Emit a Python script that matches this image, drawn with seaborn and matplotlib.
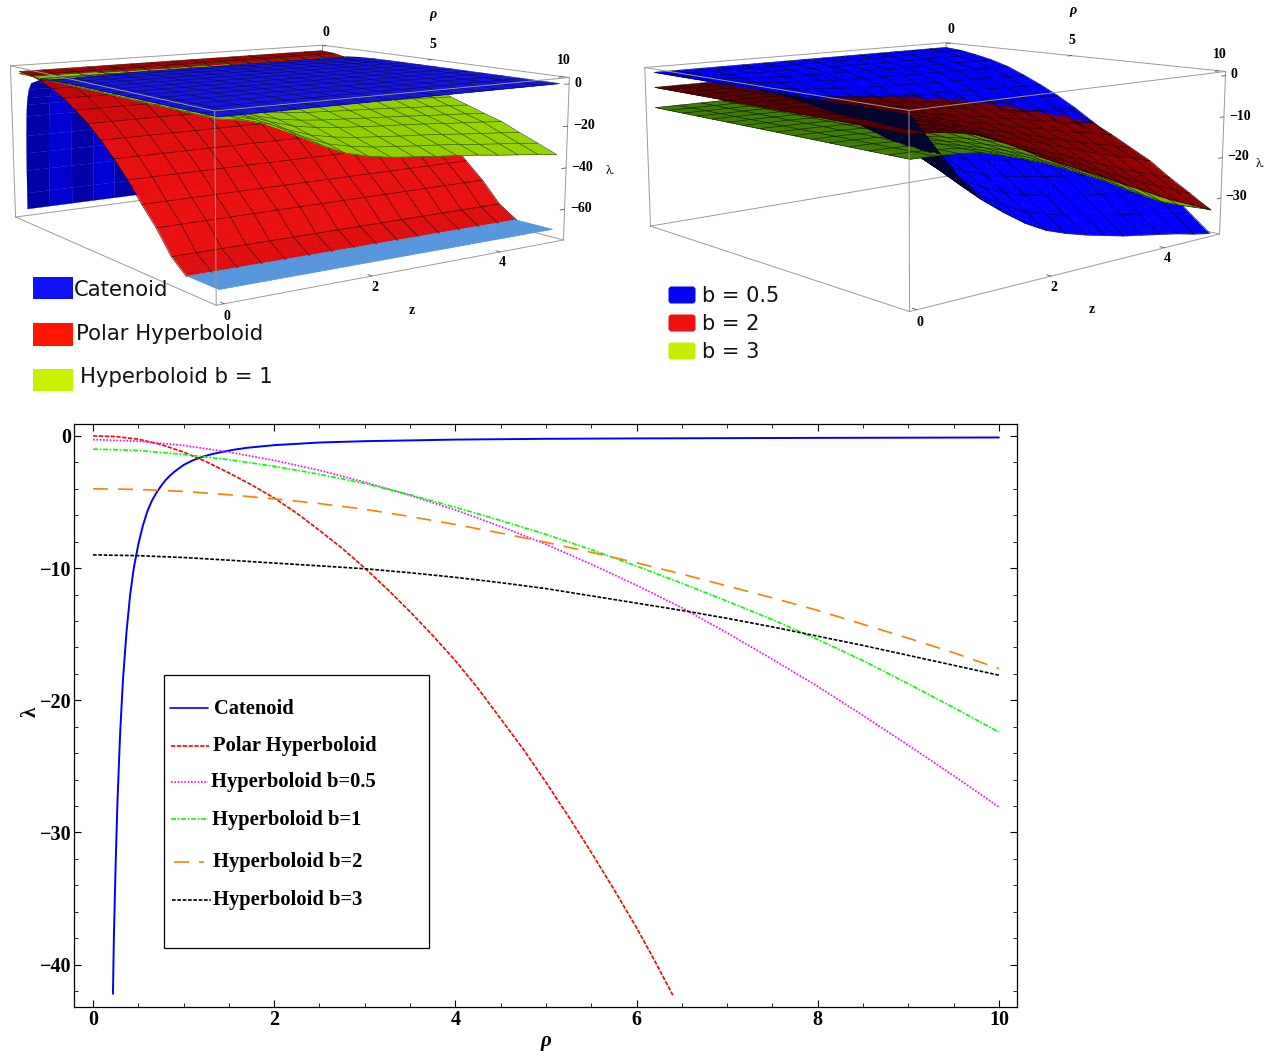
import numpy as np
import pandas as pd
import seaborn as sns
import matplotlib
matplotlib.use('Agg')
import matplotlib.pyplot as plt
from matplotlib.colors import to_rgb
from matplotlib.patches import Rectangle, FancyBboxPatch
from matplotlib.ticker import MultipleLocator
from mpl_toolkits.mplot3d import proj3d
from mpl_toolkits.mplot3d.art3d import Poly3DCollection

# Bottom chart: curves
rho_grid = [0, 0.5, 1, 1.5, 2, 2.5, 3, 3.5, 4, 4.5, 5, 5.5, 6, 6.5, 7, 7.5, 8, 8.5, 9, 9.5, 10]
lam_b05 = [-0.28, -0.4, -0.72, -1.22, -1.85, -2.6, -3.5, -4.5, -5.6, -6.85, -8.2, -9.7, -11.3,
           -13, -14.9, -16.9, -18.95, -21.15, -23.4, -25.7, -28.07]
lam_b1 = [-1, -1.1, -1.4, -1.8, -2.3, -2.9, -3.6, -4.45, -5.4, -6.4, -7.45, -8.6, -9.85,
          -11.15, -12.5, -13.9, -15.4, -17, -18.75, -20.55, -22.4]
lam_b2 = [-4, -4.05, -4.2, -4.45, -4.76, -5.12, -5.55, -6.1, -6.7, -7.35, -8.05, -8.8, -9.6,
          -10.45, -11.35, -12.25, -13.2, -14.25, -15.3, -16.4, -17.6]
lam_b3 = [-9, -9.06, -9.2, -9.4, -9.62, -9.83, -10.05, -10.35, -10.7, -11.1, -11.55, -12.1, -12.65,
          -13.2, -13.8, -14.45, -15.15, -15.85, -16.6, -17.35, -18.1]
rho_polar = [0, 0.25, 0.5, 0.75, 1, 1.25, 1.5, 1.75, 2, 2.25, 2.5, 2.75, 3, 3.25, 3.5, 3.75, 4, 4.25,
             4.5, 4.75, 5, 5.25, 5.5, 5.75, 6, 6.2, 6.4]
lam_polar = [0, -0.05, -0.25, -0.65, -1.23, -1.95, -2.8, -3.7, -4.7, -5.85, -7.15, -8.5, -10, -11.6,
             -13.3, -15.1, -17, -19.1, -21.4, -23.7, -26.2, -28.8, -31.5, -34.3, -37.2, -39.7, -42.3]
rho_cat = [0.22, 0.23, 0.25, 0.27, 0.3, 0.33, 0.37, 0.41, 0.45, 0.5, 0.55, 0.6, 0.65, 0.7, 0.75, 0.8, 0.85,
           0.9, 0.95, 1, 1.1, 1.2, 1.3, 1.4, 1.55, 1.7, 1.85, 2, 2.5, 3, 4, 5, 6, 8, 10]
lam_cat = [-42.2, -38, -32.3, -27.6, -22.4, -18.5, -14.8, -12, -10, -8.2, -6.8, -5.7, -4.9, -4.3, -3.8,
           -3.35, -3, -2.7, -2.45, -2.2, -1.85, -1.6, -1.4, -1.25, -1.05, -0.9, -0.8, -0.7, -0.5, -0.4,
           -0.28, -0.22, -0.19, -0.15, -0.12]

# 3D panels: mesh values along rho and z, the sheets are built from these
rho_mesh = [0, 0.67, 1.33, 2, 2.67, 3.33, 4, 4.67, 5.33, 6, 6.67, 7.33, 8, 8.67, 9.33, 10]
z_mesh = [0, 0.33, 0.67, 1, 1.33, 1.67, 2, 2.33, 2.67, 3, 3.33, 3.67, 4, 4.33, 4.67, 5]
mesh_b05 = [-0.28, -0.55, -1.1, -1.8, -2.75, -4.1, -5.6, -7.3, -9.2, -11.4, -13.9, -16.3, -18.95, -21.9, -25, -28]
mesh_b1 = [-1, -1.15, -1.65, -2.3, -3.1, -4.05, -5.4, -6.75, -8.2, -9.9, -11.7, -13.5, -15.2, -17.7, -20, -22.4]
mesh_b2 = [-4, -4.1, -4.35, -4.76, -5.25, -5.85, -6.75, -7.6, -8.5, -9.6, -10.7, -11.9, -13.1, -14.7, -16.1, -17.6]
mesh_b3 = [-9, -9.1, -9.35, -9.62, -9.9, -10.25, -10.7, -11.25, -11.95, -12.7, -13.4, -14.3, -15.2, -16.2, -17.2, -18.1]
zfac_b05 = [0, 0.25, 0.5, 0.7, 0.83, 0.95, 1.04, 1.1, 1.15, 1.19, 1.23, 1.26, 1.29, 1.32, 1.36, 1.39]
zfac_b1 = [0, 0.07, 0.2, 0.45, 0.7, 0.92, 1.04, 1.12, 1.17, 1.22, 1.26, 1.31, 1.37, 1.42, 1.47, 1.53]
zfac_b2 = [0, 0.03, 0.08, 0.17, 0.33, 0.5, 0.7, 0.86, 1.02, 1.18, 1.35, 1.52, 1.69, 1.84, 1.98, 2.13]
zfac_b3 = [0, 0.01, 0.04, 0.1, 0.25, 0.42, 0.6, 0.82, 1.06, 1.3, 1.57, 1.84, 2.1, 2.29, 2.46, 2.62]
mesh_polar = [0, -0.5, -2.2, -4.7, -8, -12.2, -17, -23, -29.7, -37.2, -46, -54, -64, -70, -70, -70]
mesh_cat = [-1.35, -0.7, -0.45, -0.33, -0.28, -0.24, -0.21, -0.19, -0.17, -0.16, -0.15, -0.14, -0.13, -0.12]
rho_wall = [0.17, 0.18, 0.2, 0.22, 0.25, 0.3, 0.35, 0.4, 0.5, 0.67, 1.33]
lam_wall = [-70, -61.7, -50, -41, -32, -22, -16, -12.5, -8, -4.5, -1.35]

legend_labels = ['Catenoid', 'Polar Hyperboloid', 'Hyperboloid b=0.5', 'Hyperboloid b=1', 'Hyperboloid b=2', 'Hyperboloid b=3']
legend_colors = ['#0000ff', '#ff0000', '#ff00ff', '#00ff00', '#ff8000', '#000000']
legend_dashes = ['-', (0, (2.6, 0.9)), (0, (1, 1)), (0, (3, 1, 1, 1)), (0, (9, 6)), (0, (2.2, 1))]

W, H = 1271, 1051
ELEV, FOCAL = 9.8, 0.36
SUB = 4
sns.set_theme(style='ticks')
plt.rcParams['font.family'] = ['Liberation Serif', 'DejaVu Sans']
plt.rcParams['axes.unicode_minus'] = True

fig = plt.figure(figsize=(W / 100, H / 100), dpi=100, facecolor='white')


def pixel_rect(left, top, right, bottom):
    return [left / W, 1 - bottom / H, (right - left) / W, (bottom - top) / H]


# Bottom line chart
ax = fig.add_axes(pixel_rect(74, 424, 1017, 1007))
curves = [(rho_cat, lam_cat), (rho_polar, lam_polar), (rho_grid, lam_b05),
          (rho_grid, lam_b1), (rho_grid, lam_b2), (rho_grid, lam_b3)]
widths = [1.4, 1.2, 1.2, 1.2, 1.2, 1.2]
for i, (xs, ys) in enumerate(curves):
    df = pd.DataFrame({'rho': xs, 'lam': ys})
    sns.lineplot(data=df, x='rho', y='lam', ax=ax, color=legend_colors[i], linestyle=legend_dashes[i],
                 lw=widths[i], estimator=None, sort=False, errorbar=None)
ax.set_xlim(-0.21, 10.2)
ax.set_ylim(-43.2, 0.9)
ax.xaxis.set_major_locator(MultipleLocator(2))
ax.xaxis.set_minor_locator(MultipleLocator(0.5))
ax.yaxis.set_major_locator(MultipleLocator(10))
ax.yaxis.set_minor_locator(MultipleLocator(2))
ax.tick_params(which='major', direction='in', length=5, width=0.8, top=True, right=True, pad=2,
               labelsize=14.5, colors='black')
ax.tick_params(which='minor', direction='in', length=3, width=0.6, top=True, right=True, colors='black')
for lab in ax.get_xticklabels() + ax.get_yticklabels():
    lab.set_fontweight('bold')
for sp in ax.spines.values():
    sp.set_linewidth(0.9)
    sp.set_color('black')
ax.set_xlabel('ρ', fontsize=15, fontweight='bold', fontstyle='italic', color='black')
ax.set_ylabel('λ', fontsize=15, fontweight='bold', color='black')
ax.xaxis.set_label_coords((546 - 74) / 943, -(1031 - 1007) / 583)
ax.yaxis.set_label_coords((41 - 74) / 943, (1007 - 712) / 583)


def refine(vals):
    # extra render points between the mesh lines so that the sheets cross cleanly
    vals = np.asarray(vals, dtype=float)
    pos = np.linspace(0, len(vals) - 1, (len(vals) - 1) * SUB + 1)
    return np.interp(pos, np.arange(len(vals)), vals)


def cam_vector(azim):
    e, a = np.radians(ELEV), np.radians(azim)
    return np.array([np.cos(e) * np.cos(a), np.cos(e) * np.sin(a), np.sin(e)])


def sheet_quads(rho, zs, lam):
    rr, zz = np.meshgrid(rho, zs, indexing='ij')
    pts = np.dstack([rr, zz, lam])
    return np.stack([pts[:-1, :-1], pts[1:, :-1], pts[1:, 1:], pts[:-1, 1:]], axis=2).reshape(-1, 4, 3)


def build_sheet(rho, lam, span, azim, dark, bright, edge, under=None, floor=None, floor_color=None):
    # returns cells and mesh lines; the lines are nudged towards the camera so they sort on top
    rho_f = refine(rho)
    z_f = refine(z_mesh)
    quads = sheet_quads(rho_f, z_f, lam)
    scale = np.array([1 / 10.4, 1 / 5.2, 0.4 / span])
    q = quads * scale
    n = np.cross(q[:, 2] - q[:, 0], q[:, 3] - q[:, 1])
    n = n / np.linalg.norm(n, axis=1, keepdims=True)
    cam = cam_vector(azim)
    t = np.clip(n[:, 0] * 2.0, 0, 1)[:, None]
    faces = np.array(to_rgb(dark)) * (1 - t) + np.array(to_rgb(bright)) * t
    if under is not None:
        faces[(n @ cam) < 0] = to_rgb(under)
    if floor is not None:
        faces[quads[:, :, 2].max(axis=1) <= floor] = to_rgb(floor_color)

    pts = np.dstack(list(np.meshgrid(rho_f, z_f, indexing='ij')) + [lam])
    segs = []
    for i in range(0, pts.shape[0], SUB):
        for j in range(pts.shape[1] - 1):
            segs.append(pts[i, j:j + 2])
    for j in range(0, pts.shape[1], SUB):
        for i in range(pts.shape[0] - 1):
            segs.append(pts[i:i + 2, j])
    segs = np.array(segs)
    if floor is not None:
        segs = segs[segs[:, :, 2].max(axis=1) > floor]
    segs = segs + 0.02 * cam / scale
    line_cols = np.tile(np.array(to_rgb(edge)), (len(segs), 1))
    return list(quads) + list(segs), np.vstack([faces, line_cols]), np.vstack([faces, line_cols])


def draw_box(ax3, lam_lo, lam_hi, color='#9a9a9a'):
    x0, x1, y0, y1 = -0.2, 10.2, -0.1, 5.1
    back = [((x0, y1, lam_lo), (x0, y1, lam_hi)), ((x0, y0, lam_lo), (x0, y1, lam_lo)),
            ((x0, y1, lam_lo), (x1, y1, lam_lo))]
    front = [((x0, y0, lam_hi), (x0, y1, lam_hi)), ((x0, y1, lam_hi), (x1, y1, lam_hi)),
             ((x1, y1, lam_hi), (x1, y0, lam_hi)), ((x1, y0, lam_hi), (x0, y0, lam_hi)),
             ((x0, y0, lam_lo), (x0, y0, lam_hi)), ((x1, y1, lam_lo), (x1, y1, lam_hi)),
             ((x1, y0, lam_lo), (x1, y0, lam_hi)), ((x0, y0, lam_lo), (x1, y0, lam_lo)),
             ((x1, y0, lam_lo), (x1, y1, lam_lo))]
    for seg in back:
        ax3.plot(*zip(*seg), color=color, lw=0.7, zorder=1, clip_on=False)
    for seg in front:
        ax3.plot(*zip(*seg), color=color, lw=0.7, zorder=6, clip_on=False)


def label_3d(ax3, x, y, z, text, **kw):
    # project the data position and put the label on the figure
    ax3.apply_aspect()
    x2, y2, _ = proj3d.proj_transform(x, y, z, ax3.get_proj())
    px, py = ax3.transData.transform((x2, y2))
    fig.text(px / W, py / H, text, va='center', color='black', zorder=7, **kw)


def label_box(ax3, lam_lo, lam_hi, lam_ticks):
    x1, y0, y1 = 10.2, -0.1, 5.1
    span = lam_hi - lam_lo
    for r in [0, 5, 10]:
        ax3.plot([r, r], [y1, y1 - 0.08], [lam_hi, lam_hi], color='#555555', lw=0.6, zorder=6, clip_on=False)
        label_3d(ax3, r, y1, lam_hi + 0.1 * span, str(r), fontsize=10, fontweight='bold', ha='center')
    for v in [0, 2, 4]:
        ax3.plot([x1, x1 - 0.15], [v, v], [lam_lo, lam_lo], color='#555555', lw=0.6, zorder=6, clip_on=False)
        label_3d(ax3, x1 + 0.1, v, lam_lo - 0.06 * span, str(v), fontsize=10, fontweight='bold', ha='center')
    for t in lam_ticks:
        ax3.plot([x1, x1], [y1, y1 - 0.08], [t, t], color='#555555', lw=0.6, zorder=6, clip_on=False)
        label_3d(ax3, x1, y1 + 0.1, t, str(t).replace('-', '−'), fontsize=10, fontweight='bold', ha='left')
    label_3d(ax3, 5, y1, lam_hi + 0.3 * span, 'ρ', fontsize=10, fontweight='bold', fontstyle='italic', ha='center')
    label_3d(ax3, x1 + 0.6, 2.35, lam_lo - 0.19 * span, 'z', fontsize=10, fontweight='bold', ha='center')
    label_3d(ax3, x1, y1 + 0.72, lam_lo + 0.395 * span, 'λ.', fontsize=9, ha='left')


def make_3d(cx, cy, size, lam_lo, lam_hi, zoom, azim):
    rect = pixel_rect(cx - size / 2, cy - size / 2, cx + size / 2, cy + size / 2)
    ax3 = fig.add_axes(rect, projection='3d', computed_zorder=False, facecolor='none')
    ax3.set_proj_type('persp', focal_length=FOCAL)
    ax3.set_box_aspect((1, 1, 0.4), zoom=zoom)
    ax3.view_init(elev=ELEV, azim=azim)
    ax3.set_xlim(-0.2, 10.2)
    ax3.set_ylim(-0.1, 5.1)
    ax3.set_zlim(lam_lo, lam_hi)
    ax3.set_xticks([])
    ax3.set_yticks([])
    ax3.set_zticks([])
    ax3.set_axis_off()
    return ax3


def hyper_sheet(mesh, zfac):
    mesh = refine(mesh)
    return mesh[0] + np.outer(mesh - mesh[0], refine(zfac))


def flat_in_z(mesh):
    return np.tile(refine(mesh)[:, None], (1, (len(z_mesh) - 1) * SUB + 1))


# Top left panel
LO_L, HI_L = -75, 3
AZ_L, AZ_R = -34.5, -41.5
axl = make_3d(270, 160, 700, LO_L, HI_L, 0.81, AZ_L)
draw_box(axl, LO_L, HI_L)

wall = sheet_quads(rho_wall, z_mesh, np.tile(np.asarray(lam_wall)[:, None], (1, len(z_mesh))))
wall_cols = np.tile(np.array(to_rgb('#0000a8')), (len(wall), 1))
wall_cols[(np.arange(len(wall)) % 15) % 2 == 1] = to_rgb('#0000d0')
pc = Poly3DCollection(wall, facecolors=wall_cols, edgecolors=wall_cols, linewidths=0.2, zorder=2, clip_on=False)
axl.add_collection3d(pc, autolim=False)

verts, faces, edges = [], [], []
for rho, lam, opts in [
        (rho_mesh, flat_in_z(mesh_polar), dict(dark='#9c0000', bright='#e81010', edge='#3a0000', floor=-70, floor_color='#5596dc')),
        (rho_mesh, hyper_sheet(mesh_b1, zfac_b1), dict(dark='#86cc00', bright='#a0dc00', edge='#2c4a00')),
        (rho_mesh[2:], flat_in_z(mesh_cat), dict(dark='#1616dc', bright='#1616dc', edge='#08086a'))]:
    v, f, e = build_sheet(rho, lam, HI_L - LO_L, AZ_L, **opts)
    verts += v
    faces.append(f)
    edges.append(e)
pc = Poly3DCollection(verts, facecolors=np.vstack(faces), edgecolors=np.vstack(edges),
                      linewidths=0.45, zorder=3, clip_on=False)
axl.add_collection3d(pc, autolim=False)
label_box(axl, LO_L, HI_L, [0, -20, -40, -60])

# Top right panel
LO_R, HI_R = -39, 1
axr = make_3d(922, 160, 700, LO_R, HI_R, 0.83, AZ_R)
draw_box(axr, LO_R, HI_R)
verts, faces, edges = [], [], []
for mesh, zfac, dark, bright, under, edge in [
        (mesh_b05, zfac_b05, '#0000ff', '#0000ff', '#05052e', '#000040'),
        (mesh_b2, zfac_b2, '#5a0000', '#a40000', '#200000', '#200000'),
        (mesh_b3, zfac_b3, '#3e7c00', '#a4d800', '#1c3000', '#0c1c00')]:
    v, f, e = build_sheet(rho_mesh, hyper_sheet(mesh, zfac), HI_R - LO_R, AZ_R, dark, bright, edge, under=under)
    verts += v
    faces.append(f)
    edges.append(e)
pc = Poly3DCollection(verts, facecolors=np.vstack(faces), edgecolors=np.vstack(edges),
                      linewidths=0.45, zorder=3, clip_on=False)
axr.add_collection3d(pc, autolim=False)
label_box(axr, LO_R, HI_R, [0, -10, -20, -30])

# Overlay in pixel coordinates for the hand placed legends
over = fig.add_axes([0, 0, 1, 1], facecolor='none')
over.set_xlim(0, W)
over.set_ylim(H, 0)
over.set_xticks([])
over.set_yticks([])
over.set_axis_off()

left_labels = ['Catenoid', 'Polar Hyperboloid', 'Hyperboloid b = 1']
left_colors = ['#0f0fff', '#ff1500', '#c8f000']
left_rows = [(277, 299, 74, 290), (323, 346, 76, 334), (369, 391, 80, 377)]
for lab, col, (y0, y1, tx, ty) in zip(left_labels, left_colors, left_rows):
    over.add_patch(Rectangle((33, y0), 40, y1 - y0, facecolor=col, edgecolor='none'))
    over.text(tx, ty, lab, fontsize=15.2, family='DejaVu Sans', va='center', color='#111111')

right_labels = ['b = 0.5', 'b = 2', 'b = 3']
right_colors = ['#0505f5', '#f01010', '#c4ee00']
for lab, col, yc in zip(right_labels, right_colors, [295, 323, 351]):
    over.add_patch(FancyBboxPatch((670, yc - 7), 24, 14, boxstyle='round,pad=1.5,rounding_size=3', facecolor=col, edgecolor='none'))
    over.text(702, yc + 1, lab, fontsize=15, family='DejaVu Sans', va='center', color='#111111')

over.add_patch(Rectangle((164, 675), 265, 273, facecolor='white', edgecolor='black', lw=0.9))
key_rows = [(170, 208, 214, 708), (171, 209, 213, 746), (171, 208, 211, 782),
            (171, 208, 212, 819), (174, 204, 213, 862), (172, 211, 213, 900)]
for lab, col, dash, (x0, x1, tx, ty) in zip(legend_labels, legend_colors, legend_dashes, key_rows):
    over.plot([x0, x1], [ty, ty], color=col, linestyle=dash, lw=1.2)
    over.text(tx, ty + 0.5, lab, fontsize=14.8, fontweight='bold', va='center', color='black')

fig.savefig('out.png', dpi=100)
